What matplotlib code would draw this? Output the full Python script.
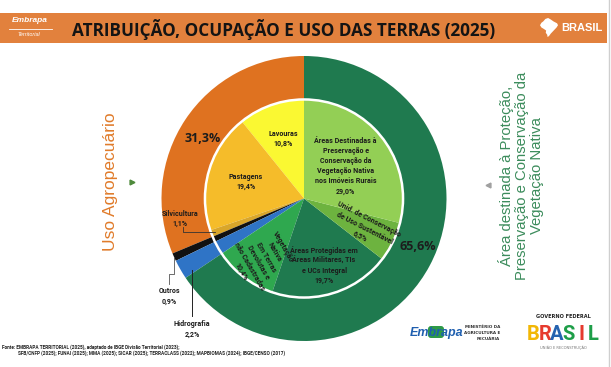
import numpy as np
import matplotlib.pyplot as plt
from matplotlib.patches import Rectangle, Polygon, Circle, FancyBboxPatch

# ---------------------------------------------------------------
# dados
outer_names  = ['Uso Agropecuário', 'Outros', 'Hidrografia', 'Proteção e Conservação']
outer_values = [31.3, 0.9, 2.2, 65.6]
outer_colors = ['#DF7220', '#111111', '#2F74C6', '#1F7A4F']

inner_names  = ['Lavouras', 'Pastagens', 'Silvicultura', 'Outros', 'Hidrografia',
                'Vegetação\nNativa\nEm Terras\nDevolutas e\nnão Cadastradas',
                'Áreas Protegidas em\nÁreas Militares, TIs\ne UCs Integral',
                'Unid. de Conservação\nde Uso Sustentável',
                'Áreas Destinadas à\nPreservação e\nConservação da\nVegetação Nativa\nnos Imóveis Rurais']
inner_values = [10.8, 19.4, 1.1, 0.9, 2.2, 10.4, 19.7, 6.5, 29.0]
inner_colors = ['#FAF832', '#F5BC2A', '#D9A62A', '#111111', '#2F74C6',
                '#2FA84F', '#1F7A4F', '#6DB33F', '#93CF55']

title = 'ATRIBUIÇÃO, OCUPAÇÃO E USO DAS TERRAS (2025)'
fonte1 = 'Fonte: EMBRAPA TERRITORIAL (2025), adaptado de IBGE Divisão Territorial (2023);'
fonte2 = 'SFB/CNFP (2025); FUNAI (2025); MMA (2025); SICAR (2025); TERRACLASS (2022); MAPBIOMAS (2024); IBGE/CENSO (2017)'

def pct(v):
    return ('%.1f' % v).replace('.', ',') + '%'

# ---------------------------------------------------------------
W, H = 611, 367
CX, CY, R = 304, 198.5, 142.5
RIN = 0.695

fig = plt.figure(figsize=(W/100, H/100), dpi=100, facecolor='white')

axp = fig.add_axes([(CX-R)/W, (H-CY-R)/H, 2*R/W, 2*R/H])
wo, _ = axp.pie(outer_values, colors=outer_colors, radius=1.0, startangle=90,
                counterclock=True, wedgeprops=dict(width=1-RIN+0.01, linewidth=0))
wi, _ = axp.pie(inner_values, colors=inner_colors, radius=RIN, startangle=90,
                counterclock=True, wedgeprops=dict(linewidth=0))
axp.add_patch(Circle((0, 0), RIN, fill=False, ec='white', lw=1.8))
axp.set_xlim(-1, 1)
axp.set_ylim(-1, 1)
axp.set_aspect('equal')
axp.axis('off')

ax = fig.add_axes([0, 0, 1, 1], zorder=5)
ax.set_xlim(0, W)
ax.set_ylim(H, 0)
ax.axis('off')
ax.patch.set_alpha(0)

def pol(ang, r):
    a = np.deg2rad(ang)
    return CX + r*R*np.cos(a), CY - r*R*np.sin(a)

def mid(w):
    return (w.theta1 + w.theta2) / 2.0

NARROW = ['Liberation Sans Narrow', 'Roboto']
lab = dict(family=NARROW, weight='bold', color='#1c1c1c', ha='center', va='center')

# rotulos internos: raio, rotacao, desvio angular
in_r   = {0: 0.445, 1: 0.425, 5: 0.52, 6: 0.49, 7: 0.47, 8: 0.37}
in_rot = {5: -60, 7: -27}
in_da  = {5: 3}
for i, r in in_r.items():
    x, y = pol(mid(wi[i]) + in_da.get(i, 0), r)
    ax.text(x, y, inner_names[i] + '\n' + pct(inner_values[i]), fontsize=5.1,
            rotation=in_rot.get(i, 0), linespacing=1.3 if i == 5 else 1.35, **lab)

# rotulos externos
for i, r, da in [(0, 0.83, 3), (3, 0.865, 5)]:
    x, y = pol(mid(wo[i]) + da, r)
    ax.text(x, y, pct(outer_values[i]), fontsize=9, family='Open Sans', weight='bold',
            color='#1c1c1c', ha='center', va='center')

# Silvicultura
sx, sy = pol(mid(wi[2]), 0.67)
ax.plot([sx, 183, 183], [sy, sy, 227], color='#333333', lw=0.6)
ax.text(180, 219, inner_names[2] + '\n' + pct(inner_values[2]), fontsize=5.1,
        linespacing=1.35, **lab)

# Outros
ox, oy = pol(mid(wo[1]), 1.0)
ax.plot([ox, ox, ox-5, ox-5], [oy, 274, 274, 284], color='#555555', lw=0.6)
ax.text(ox-5, 296, outer_names[1] + '\n' + pct(outer_values[1]), fontsize=5.1,
        linespacing=1.45, **lab)

# Hidrografia
hx, hy = pol(mid(wo[2]), 0.93)
ax.plot([hx+3, hx+3], [hy+5, 316], color='#222222', lw=0.7)
ax.text(hx+3, 329, outer_names[2] + '\n' + pct(outer_values[2]), fontsize=5.1,
        linespacing=1.45, **lab)

# textos verticais
ax.text(111, 182, 'Uso Agropecuário', family='Liberation Sans', fontsize=12.5,
        color='#E07B2A', rotation=90, ha='center', va='center')
ax.plot(132, 182, marker='>', color='#4E8A3C', ms=3.5)
ax.text(521, 176, 'Área destinada à Proteção,\nPreservação e Conservação da\nVegetação Nativa',
        family='Liberation Sans', fontsize=10.7, color='#3C8C5C', rotation=90,
        ha='center', va='center', multialignment='center', linespacing=1.05)
ax.plot(488, 185, marker='<', color='#A0A0A0', ms=3.5)

# cabecalho
ax.add_patch(Rectangle((0, 13), 607, 30, color='#E2813D', lw=0))
ax.axvline(608.5, color='#CFCFCF', lw=1)
ax.text(30, 21, 'Embrapa', family='Liberation Sans', style='italic', weight='bold',
        fontsize=6, color='white', ha='center', va='center')
ax.plot([9, 52], [29, 29], color='white', lw=0.6)
ax.text(29, 34, 'Territorial', family='Liberation Sans', style='italic',
        fontsize=4, color='white', ha='center', va='center')
ax.text(72, 29, title, family='Open Sans', weight='bold', fontsize=12.3,
        color='#141414', ha='left', va='center')
mapa = [(0.30, 0.05), (0.45, 0.0), (0.60, 0.08), (0.75, 0.18), (0.95, 0.28), (1.0, 0.38),
        (0.92, 0.5), (0.80, 0.62), (0.70, 0.72), (0.60, 0.82), (0.50, 0.95), (0.42, 1.0),
        (0.40, 0.88), (0.32, 0.78), (0.34, 0.66), (0.22, 0.58), (0.08, 0.50), (0.0, 0.38),
        (0.08, 0.25), (0.18, 0.18)]
ax.add_patch(Polygon([(540 + 18*px, 18 + 19*py) for px, py in mapa], color='white', lw=0))
ax.text(561, 28, 'BRASIL', family='Liberation Sans', weight='bold', fontsize=8,
        color='white', ha='left', va='center')

# rodape
ax.text(2, 347, fonte1, family=NARROW, weight='bold', fontsize=3.4, color='#222222',
        ha='left', va='center')
ax.text(18, 353, fonte2, family=NARROW, weight='bold', fontsize=3.4, color='#222222',
        ha='left', va='center')

# logos
ax.add_patch(FancyBboxPatch((428, 326), 16, 12, boxstyle='round,pad=0,rounding_size=3',
                            color='#2E9A48', lw=0))
ax.text(437, 333, 'Embrapa', family='Liberation Sans', style='italic', weight='bold',
        fontsize=9, color='#1F5FAF', ha='center', va='center')
ax.text(500, 333, 'MINISTÉRIO DA\nAGRICULTURA E\nPECUÁRIA', family='DejaVu Sans',
        weight='bold', fontsize=3, color='#333333', ha='right', va='center',
        multialignment='right', linespacing=1.5)
ax.text(563, 317, 'GOVERNO FEDERAL', family='DejaVu Sans', weight='bold', fontsize=3.6,
        color='#222222', ha='center', va='center')
cores_br = ['#F2B705', '#E63A2E', '#2563B0', '#1E9E48', '#E63A2E', '#1E9E48']
for k, (ch, c) in enumerate(zip('BRASIL', cores_br)):
    ax.text(533 + k*12.0, 334, ch, family=NARROW, weight='bold', fontsize=14.5,
            color=c, ha='center', va='center')
ax.text(563, 348, 'UNIÃO E RECONSTRUÇÃO', family='DejaVu Sans', fontsize=2.6,
        color='#777777', ha='center', va='center')

fig.savefig('out.png', dpi=100, facecolor='white')
